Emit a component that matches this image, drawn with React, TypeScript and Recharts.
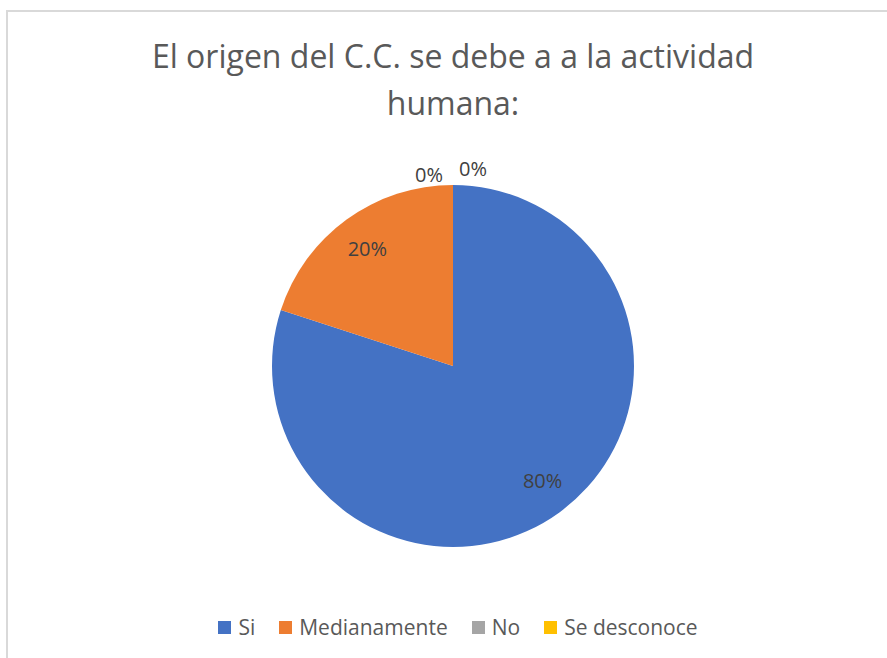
import { PieChart, Pie, Cell, Legend } from 'recharts'

const categories = ['Si', 'Medianamente', 'No', 'Se desconoce']
const values = [80, 20, 0, 0]
const colors = ['#4472C4', '#ED7D31', '#A5A5A5', '#FFC000']
const titleLines = ['El origen del C.C. se debe a a la actividad', 'humana:']

const data = categories.map((name, i) => ({ name, value: values[i] }))
const total = values.reduce((a, b) => a + b, 0)

const FONT = '"Open Sans", sans-serif'
const RAD = Math.PI / 180

const renderLabel = (props: any) => {
  const { cx, cy, outerRadius, midAngle, value, index } = props
  const pct = `${Math.round((value / total) * 100)}%`
  let x: number
  let y: number
  if (value > 0) {
    const r = outerRadius * 0.805
    x = cx + r * Math.cos(-midAngle * RAD) + (index === 0 ? 4 : 0)
    y = cy + r * Math.sin(-midAngle * RAD) - (index === 0 ? 3 : 0)
  } else {
    // empty slices sit at 12 o'clock, Excel pushes their labels outside
    x = cx + (index === 2 ? -24 : 20)
    y = cy - outerRadius - (index === 2 ? 11 : 17)
  }
  return (
    <text
      key={`lbl-${index}`}
      x={x}
      y={y}
      fill="#404040"
      fontSize={20}
      fontFamily={FONT}
      textAnchor="middle"
      dominantBaseline="central"
    >
      {pct}
    </text>
  )
}

const renderLegend = () => (
  <div
    style={{
      display: 'flex',
      justifyContent: 'center',
      fontFamily: FONT,
      fontSize: 21,
      color: '#595959',
    }}
  >
    {categories.map((c, i) => (
      <div key={c} style={{ display: 'flex', alignItems: 'center', marginRight: i < 3 ? 24 : 0 }}>
        <span style={{ width: 13, height: 13, background: colors[i], marginRight: 7 }} />
        <span>{c}</span>
      </div>
    ))}
  </div>
)

const App = () => {
  return (
    <div
      style={{
        position: 'absolute',
        left: 0,
        top: 0,
        width: 887,
        height: 658,
        overflow: 'hidden',
        background: '#fff',
      }}
    >
      <div
        style={{
          position: 'absolute',
          left: 6,
          top: 10,
          width: 920,
          height: 700,
          border: '2px solid #d9d9d9',
        }}
      />
      <div
        style={{
          position: 'absolute',
          left: 0,
          top: 32,
          width: 906,
          textAlign: 'center',
          fontFamily: FONT,
          fontSize: 32,
          lineHeight: '47px',
          color: '#595959',
        }}
      >
        {titleLines.map((t) => (
          <div key={t}>{t}</div>
        ))}
      </div>
      <div style={{ position: 'absolute', left: 0, top: 0 }}>
        <PieChart width={887} height={658} margin={{ top: 0, right: 0, bottom: 0, left: 0 }}>
          <Pie
            data={data}
            dataKey="value"
            nameKey="name"
            cx={453}
            cy={366}
            outerRadius={181}
            startAngle={90}
            endAngle={-270}
            stroke="none"
            label={renderLabel}
            labelLine={false}
            isAnimationActive={false}
          >
            {data.map((d, i) => (
              <Cell key={`cell-${i}`} fill={colors[i]} />
            ))}
          </Pie>
          <Legend
            content={renderLegend}
            wrapperStyle={{ position: 'absolute', top: 613, left: 0, width: 916 }}
          />
        </PieChart>
      </div>
    </div>
  )
}

export default App
